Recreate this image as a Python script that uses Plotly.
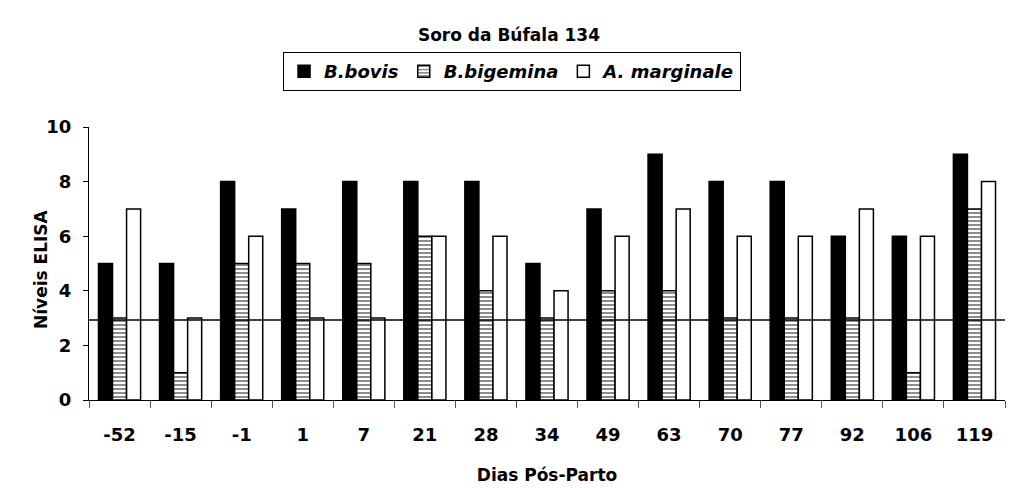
import plotly.graph_objects as go

dias = ["-52", "-15", "-1", "1", "7", "21", "28", "34", "49", "63", "70", "77", "92", "106", "119"]
b_bovis = [5, 5, 8, 7, 8, 8, 8, 5, 7, 9, 8, 8, 6, 6, 9]
b_bigemina = [3, 1, 5, 5, 5, 6, 4, 3, 4, 4, 3, 3, 3, 1, 7]
a_marginale = [7, 3, 6, 3, 3, 6, 6, 4, 6, 7, 6, 6, 7, 6, 8]
cutoff = 2.93

fig = go.Figure()
fig.add_trace(go.Bar(
    x=dias, y=b_bovis, name="B.bovis",
    marker=dict(color="black", line=dict(color="black", width=1.5))
))
fig.add_trace(go.Bar(
    x=dias, y=b_bigemina, name="B.bigemina",
    marker=dict(color="white", line=dict(color="black", width=1.5),
                pattern=dict(shape="-", fgcolor="black", bgcolor="white",
                             size=4, solidity=0.45))
))
fig.add_trace(go.Bar(
    x=dias, y=a_marginale, name="A. marginale",
    marker=dict(color="white", line=dict(color="black", width=1.5))
))

# linha de corte
fig.add_shape(type="line", xref="paper", x0=0, x1=1, yref="y", y0=cutoff, y1=cutoff,
              line=dict(color="black", width=1.5))

# titulo do eixo y como anotacao (fica mais perto dos numeros)
fig.add_annotation(text="<b>Níveis ELISA</b>", textangle=-90, showarrow=False,
                   xref="paper", x=0, xanchor="center", xshift=-48,
                   yref="paper", y=0.48, yanchor="middle", font=dict(size=17))

font = "DejaVu Sans, Liberation Sans, Arial, sans-serif"
fig.update_layout(
    width=1018, height=488,
    margin=dict(l=89, r=13, t=127, b=88, autoexpand=False),
    plot_bgcolor="white", paper_bgcolor="white",
    barmode="group", bargap=0.31, bargroupgap=0,
    font=dict(family=font, color="black", size=17),
    title=dict(text="<b>Soro da Búfala 134</b>", x=0.5, xanchor="center",
               y=1 - 35 / 488, yanchor="middle", font=dict(size=17)),
    legend=dict(orientation="h", xref="container", x=0.503, xanchor="center",
                yref="container", y=1 - 52 / 488, yanchor="top",
                bordercolor="black", borderwidth=1, tracegroupgap=0,
                font=dict(size=18, style="italic", weight="bold"),
                itemwidth=30),
    xaxis=dict(showline=True, linecolor="black", linewidth=1,
               ticks="outside", tickson="boundaries", ticklen=7, tickcolor="#555",
               tickfont=dict(size=18, weight="bold"), ticklabelstandoff=18,
               title=dict(text="<b>Dias Pós-Parto</b>", font=dict(size=17), standoff=25)),
    yaxis=dict(range=[0, 10], dtick=2, showline=True, linecolor="black", linewidth=1,
               ticks="outside", ticklen=5, tickcolor="black", showgrid=False, zeroline=False,
               tickfont=dict(size=18, weight="bold"), ticklabelstandoff=8),
)

fig.write_html("out.html", config={"displayModeBar": False},
               post_script="document.body.style.margin='0';")
